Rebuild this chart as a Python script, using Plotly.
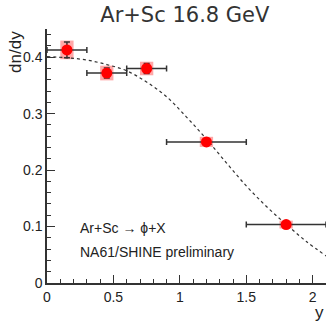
import plotly.graph_objects as go

# Data points (rapidity bins)
y_center = [0.15, 0.45, 0.75, 1.2, 1.8]
y_halfwidth = [0.15, 0.15, 0.15, 0.3, 0.3]
dndy = [0.413, 0.372, 0.380, 0.250, 0.1035]
stat_err = [0.014, 0.009, 0.009, 0.005, 0.004]
sys_err = [0.0165, 0.013, 0.012, 0.009, 0.007]
sys_box_halfwidth = [0.05, 0.05, 0.05, 0.05, 0.05]

# Fit curve values
fit_x = [0.0, 0.15, 0.3, 0.45, 0.6, 0.75, 0.9, 1.05, 1.2, 1.35, 1.5, 1.65, 1.8, 1.95, 2.1]
fit_y = [0.401, 0.399, 0.395, 0.387, 0.376, 0.356, 0.330, 0.294, 0.255, 0.213, 0.172, 0.136, 0.104, 0.074, 0.048]

x_ticks = [0, 0.5, 1, 1.5, 2]
x_tick_labels = ["0", "0.5", "1", "1.5", "2"]
y_ticks = [0, 0.1, 0.2, 0.3, 0.4]
y_tick_labels = ["0", "0.1", "0.2", "0.3", "0.4"]

fig = go.Figure()

# fit curve
fig.add_trace(go.Scatter(
    x=fit_x, y=fit_y, mode="lines", line=dict(color="#333333", width=1.2, dash="dot", shape="spline"),
    hoverinfo="skip", showlegend=False))

# systematic boxes
for xc, yc, bw, se in zip(y_center, dndy, sys_box_halfwidth, sys_err):
    fig.add_shape(type="rect", xref="x", yref="y", x0=xc - bw, x1=xc + bw, y0=yc - se, y1=yc + se,
                  fillcolor="rgba(255,60,60,0.45)", line=dict(width=0), layer="below")

# data points with errors
fig.add_trace(go.Scatter(
    x=y_center, y=dndy, mode="markers",
    marker=dict(color="#ff0000", size=11, symbol="circle"),
    error_x=dict(type="data", array=y_halfwidth, color="#333333", thickness=1.5, width=3),
    error_y=dict(type="data", array=stat_err, color="#333333", thickness=1.5, width=3),
    showlegend=False))

fig.update_layout(
    width=326, height=321,
    margin=dict(l=47, r=0, t=29, b=38),
    paper_bgcolor="white", plot_bgcolor="white",
    title=dict(text="Ar+Sc 16.8 GeV", x=0.567, xanchor="center", xref="container",
               y=0.953, yanchor="middle", yref="container",
               font=dict(family="DejaVu Sans", size=21, color="#333333")),
    font=dict(family="Liberation Sans, Arial", color="#222222"),
    xaxis=dict(range=[0, 2.1], showline=True, linecolor="#333333", linewidth=1.5, mirror=False,
               showgrid=False, zeroline=False, ticks="inside", ticklen=8, tickcolor="#333333", tickwidth=1.2,
               tickvals=x_ticks, ticktext=x_tick_labels, tickfont=dict(size=14, color="#222222"),
               minor=dict(dtick=0.1, ticks="inside", ticklen=4, tickcolor="#333333", tickwidth=1, showgrid=False)),
    yaxis=dict(range=[0, 0.45], showline=True, linecolor="#333333", linewidth=1.5, mirror=False,
               showgrid=False, zeroline=False, ticks="inside", ticklen=8, tickcolor="#333333", tickwidth=1.2,
               tickvals=y_ticks, ticktext=y_tick_labels, tickfont=dict(size=14, color="#222222"),
               minor=dict(dtick=0.02, ticks="inside", ticklen=4, tickcolor="#333333", tickwidth=1, showgrid=False)),
)

fig.add_annotation(text="dn/dy", xref="paper", yref="paper", x=-0.115, y=1.0, xanchor="center", yanchor="top",
                   textangle=-90, showarrow=False, font=dict(family="Liberation Sans, Arial", size=17, color="#222222"))
fig.add_annotation(text="y", xref="paper", yref="paper", x=0.978, y=-0.115, xanchor="center", yanchor="middle",
                   showarrow=False, font=dict(family="Liberation Sans, Arial", size=17, color="#222222"))
fig.add_annotation(text="Ar+Sc → ϕ+X", xref="paper", yref="paper", x=0.111, y=0.2185, xanchor="left",
                   yanchor="middle", showarrow=False, font=dict(family="Liberation Sans, Arial", size=14, color="#222222"))
fig.add_annotation(text="NA61/SHINE preliminary", xref="paper", yref="paper", x=0.111, y=0.124, xanchor="left",
                   yanchor="middle", showarrow=False, font=dict(family="Liberation Sans, Arial", size=14, color="#222222"))

fig.write_html("out.html", config={"displayModeBar": False},
               post_script="document.body.style.margin='0';document.body.style.padding='0';")
